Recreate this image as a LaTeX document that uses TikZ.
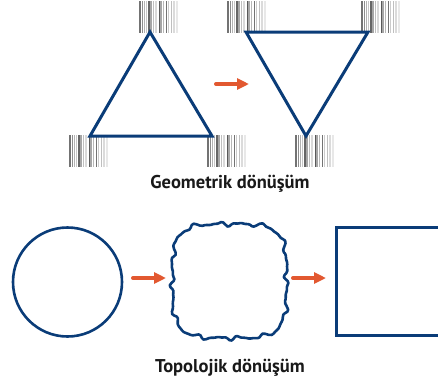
\documentclass[tikz,border=0pt]{standalone}
\usepackage{fontspec}
\setmainfont{PT Sans}
\usetikzlibrary{arrows.meta, calc}

\definecolor{shapeblue}{RGB}{10,60,120}
\definecolor{arroworange}{RGB}{226,88,48}

\tikzset{
  shape line/.style={draw=shapeblue, line width=3pt, line join=miter},
  move arrow/.style={draw=arroworange, line width=4pt, -{Triangle[length=12pt,width=11pt]}},
  caption/.style={font=\bfseries\fontsize{18.5}{22}\selectfont, text=black!90},
  declare function={
    sqr(\t)=57/((abs(cos(\t))^4+abs(sin(\t))^4)^0.25);
    wob(\t)=sqr(\t)+1.3*sin(17*\t)+0.9*sin(29*\t+40)+0.6*sin(41*\t+75);
  },
}

% grey stripes marking a corner
\newcommand{\cornerstripes}[2]{%
  \foreach \dx/\shade/\wd in {0/55/1.2,2.5/45/1,4.5/30/1.6,6.5/22/1,9/60/1.2,11/35/1.4,13.5/25/1,16/15/1.6,
                              19/65/1,21/35/1.4,23.5/28/1,26/55/1,28.5/20/1.4,31/25/1,34/14/1.6,37/9/1.2}
    \draw[line cap=butt, black!\shade, line width=\wd pt] ($(#1,#2)+(\dx,0)$) -- ++(0,32);
}

\begin{document}
\begin{tikzpicture}[line cap=round,x=1pt,y=-1pt]
\useasboundingbox (0,0) rectangle (438,389);
\clip (0,0) rectangle (438,389);

% stripes behind the triangles
\cornerstripes{140}{1}
\cornerstripes{70}{135}
\cornerstripes{208}{135}
\cornerstripes{228}{1}
\cornerstripes{362}{1}
\cornerstripes{296}{135}

\coordinate (A) at (150,32);
\coordinate (B) at (90,136);
\coordinate (C) at (212,136);

\coordinate (D) at (246,32);
\coordinate (E) at (368,32);
\coordinate (F) at (306,136);

\draw[shape line] (A) -- (B) -- (C) -- cycle;
\draw[shape line] (D) -- (E) -- (F) -- cycle;

\coordinate (G1) at (216,84);
\coordinate (G2) at (249,84);
\draw[move arrow] (G1) -- (G2);

\draw (230,184) node[caption] (geo) {Geometrik dönüşüm};

% circle, wobbly square, square
\coordinate (O) at (67.5,282);
\draw[shape line, line width=2.6pt] (O) circle[radius=54.5];

\coordinate (W) at (229.5,281);
\draw[shape line, line width=2.6pt, line join=round, shift={(W)}]
  plot[smooth cycle, variable=\t, samples=180, domain=0:358]
  ({wob(\t)*cos(\t)},{wob(\t)*sin(\t)});

\draw[shape line] (336,227) rectangle (460,335);

\coordinate (H1) at (133,278);
\coordinate (H2) at (166,278);
\coordinate (K1) at (293,278);
\coordinate (K2) at (326,278);
\draw[move arrow] (H1) -- (H2);
\draw[move arrow] (K1) -- (K2);

\draw (230,368) node[caption] (topo) {Topolojik dönüşüm};

\end{tikzpicture}
\end{document}
